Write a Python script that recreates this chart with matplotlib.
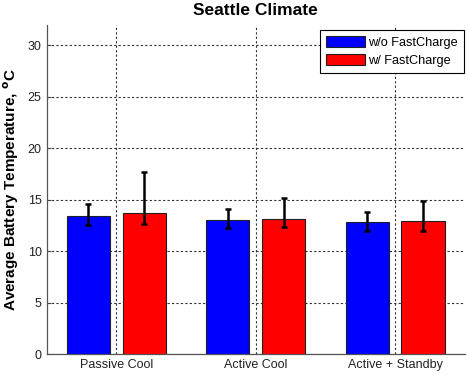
import numpy as np
import matplotlib.pyplot as plt

plt.rcParams['font.family'] = ['Liberation Sans', 'DejaVu Sans']

groups = ['Passive Cool', 'Active Cool', 'Active + Standby']
series = ['w/o FastCharge', 'w/ FastCharge']
colors = ['#0000ff', '#ff0000']

means = [[13.43, 13.04, 12.88],
         [13.75, 13.12, 12.95]]
err_hi = [[14.59, 14.08, 13.85],
          [17.66, 15.16, 14.91]]
err_lo = [[12.55, 12.23, 11.97],
          [12.62, 12.40, 12.00]]

fig = plt.figure(figsize=(4.67, 3.75), dpi=100)
ax = fig.add_axes([0.0996, 0.0552, 0.896, 0.879])

x = np.arange(1, len(groups) + 1)
offsets = [-0.2, 0.2]
for i in range(2):
    m = np.array(means[i])
    yerr = [m - np.array(err_lo[i]), np.array(err_hi[i]) - m]
    ax.bar(x + offsets[i], m, width=0.31, color=colors[i], edgecolor='#202020',
           linewidth=0.8, label=series[i], zorder=3)
    ax.errorbar(x + offsets[i], m, yerr=yerr, fmt='none', ecolor='black',
                elinewidth=1.8, capsize=2.5, capthick=1.8, zorder=4)

ax.set_xlim(0.5, 3.5)
ax.set_ylim(0, 32)
ax.set_xticks(x)
ax.set_xticklabels(groups)
ax.set_yticks(range(0, 31, 5))
ax.tick_params(axis='both', labelsize=9, labelcolor='#222222', direction='in',
               length=3, color='#444444')
ax.xaxis.set_tick_params(length=0)

ax.grid(True, color='#333333', linestyle=(0, (2, 2)), linewidth=0.8, zorder=0)
for s in ['top', 'right']:
    ax.spines[s].set_visible(False)
for s in ['left', 'bottom']:
    ax.spines[s].set_color('#555555')
    ax.spines[s].set_linewidth(0.9)

ax.set_title('Seattle Climate', fontsize=12.5, fontweight='bold', pad=7)
ax.set_ylabel('Average Battery Temperature, $\\mathbf{^o}$C', fontsize=11,
              fontweight='bold', labelpad=5)

leg = ax.legend(loc='upper right', bbox_to_anchor=(464 / 467, 1 - 30 / 375),
                bbox_transform=fig.transFigure, borderaxespad=0,
                fontsize=9.2, frameon=True, fancybox=False,
                edgecolor='black', framealpha=1, handlelength=3.1,
                handleheight=1.0, labelspacing=0.4,
                handletextpad=0.25, borderpad=0.45)
leg.get_frame().set_linewidth(0.8)

fig.savefig('out.png', dpi=100)
